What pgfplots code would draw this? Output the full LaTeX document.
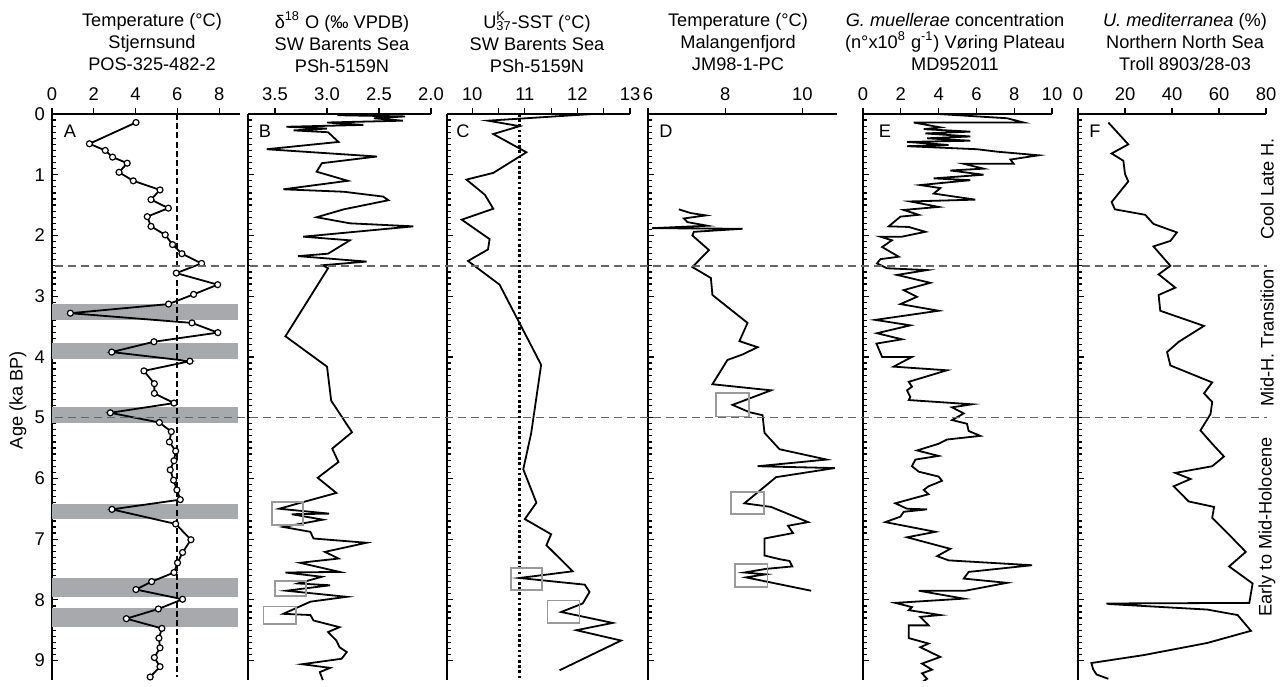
\documentclass[border=0pt]{standalone}
\usepackage{fontspec}
\setmainfont{Liberation Sans}
\usepackage{pgfplots}
\pgfplotsset{compat=1.18}
\definecolor{bandgray}{HTML}{A7A9AC}
\definecolor{boxgray}{HTML}{9A9A9A}
\definecolor{dashgray}{HTML}{666666}
\pgfplotsset{
  panel/.style={
    scale only axis, height=283pt, y dir=reverse, ymin=0, ymax=9.32,
    axis x line=top, axis y line=left, axis line style={-, line width=1.1pt},
    anchor=north west,
    ytick={0,1,2,3,4,5,6,7,8,9}, yticklabels={}, minor y tick num=9,
    xtick align=outside, ytick align=inside,
    major tick length=3pt, minor tick length=2pt,
    every tick/.style={black, line width=0.6pt},
    tick label style={font=\fontsize{9.2}{10}\selectfont},
  },
  dline/.style={black, line width=0.9pt, mark=none},
  gbox/.style={boxgray, line width=0.9pt, mark=none},
}
\begin{document}
\begin{tikzpicture}[x=1pt,y=1pt]
\useasboundingbox (0,0) rectangle (644,343);
\tikzset{ttl/.style={align=center, font=\fontsize{9.1}{11}\selectfont}}
% titles
\node[ttl] at (76,322) {Temperature (°C)\\Stjernsund\\POS-325-482-2};
\node[ttl] at (171,322) {δ\textsuperscript{18} O (‰ VPDB)\\SW Barents Sea\\PSh-5159N};
\node[ttl] at (268.5,322) {U\rlap{\textsuperscript{K}}\textsubscript{37}-SST (°C)\\SW Barents Sea\\PSh-5159N};
\node[ttl] at (369,322) {Temperature (°C)\\Malangenfjord\\JM98-1-PC};
\node[ttl] at (477.5,322) {\textit{G. muellerae} concentration\\(n°x10\textsuperscript{8} g\textsuperscript{-1}) Vøring Plateau\\MD952011};
\node[ttl] at (592.5,322) {\textit{U. mediterranea} (\%)\\Northern North Sea\\Troll 8903/28-03};
\node[ttl, rotate=90] at (9,143) {Age (ka BP)};
\node[ttl, rotate=90] at (633.5,248.6) {Cool Late H.};
\node[ttl, rotate=90] at (633.5,174) {Mid-H. Transition};
\node[ttl, rotate=90] at (633.5,79.5) {Early to Mid-Holocene};
% ---------------- A
\begin{axis}[panel, at={(26pt,286pt)}, width=94pt, xmin=0, xmax=9,
  xtick={0,2,4,6,8}, xticklabels={0,2,4,6,8}, yticklabels={0,1,2,3,4,5,6,7,8,9}]
\addplot[fill=bandgray, draw=none] coordinates {(0,3.13)(8.9,3.13)(8.9,3.39)(0,3.39)} -- cycle;
\addplot[fill=bandgray, draw=none] coordinates {(0,3.77)(8.9,3.77)(8.9,4.04)(0,4.04)} -- cycle;
\addplot[fill=bandgray, draw=none] coordinates {(0,4.83)(8.9,4.83)(8.9,5.09)(0,5.09)} -- cycle;
\addplot[fill=bandgray, draw=none] coordinates {(0,6.42)(8.9,6.42)(8.9,6.67)(0,6.67)} -- cycle;
\addplot[fill=bandgray, draw=none] coordinates {(0,7.64)(8.9,7.64)(8.9,7.96)(0,7.96)} -- cycle;
\addplot[fill=bandgray, draw=none] coordinates {(0,8.14)(8.9,8.14)(8.9,8.45)(0,8.45)} -- cycle;
\addplot[black, line width=0.9pt, dash pattern=on 3pt off 1.6pt] coordinates {(6,0)(6,9.27)};
\addplot[dline, mark=*, mark size=1.5pt, mark options={solid, fill=white, draw=black, line width=0.6pt}] coordinates {
(4.02,0.14)(1.79,0.49)(2.55,0.60)(2.90,0.71)(3.60,0.81)(3.21,0.96)(3.89,1.10)(5.17,1.25)
(4.74,1.41)(5.57,1.55)(4.56,1.69)(4.74,1.85)(5.42,1.99)(5.77,2.15)(6.22,2.30)(7.16,2.46)
(5.95,2.62)(7.93,2.81)(6.78,2.97)(5.58,3.13)(0.88,3.28)(6.70,3.44)(7.94,3.60)(4.88,3.75)
(2.86,3.92)(6.60,4.07)(4.40,4.23)(4.90,4.44)(4.90,4.60)(5.84,4.76)(2.79,4.92)(5.14,5.08)
(5.71,5.23)(5.62,5.40)(5.92,5.55)(5.84,5.71)(5.66,5.86)(5.82,6.03)(5.98,6.19)(6.14,6.35)
(2.87,6.51)(5.92,6.75)(6.65,7.01)(6.25,7.22)(6.01,7.39)(5.84,7.55)(4.77,7.70)(4.02,7.83)
(6.25,7.99)(5.09,8.15)(3.56,8.31)(5.26,8.47)(5.12,8.63)(5.17,8.79)(4.90,8.95)(5.17,9.10)(4.70,9.27)};
\end{axis}
\node[ttl] at (35,277.5) {A};
% ---------------- B
\begin{axis}[panel, at={(124pt,286pt)}, width=91.5pt, x dir=reverse, xmin=2.0, xmax=3.76,
  xtick={2.0,2.5,3.0,3.5}, xticklabels={2.0,2.5,3.0,3.5}]
\addplot[dline] coordinates {
(2.90,0.02)(2.25,0.04)(2.55,0.07)(2.27,0.11)(3.00,0.14)(2.65,0.18)(3.39,0.21)(3.00,0.24)
(3.32,0.27)(2.99,0.30)(2.89,0.46)(3.58,0.58)(2.52,0.70)(3.05,0.81)(3.10,0.95)(2.80,1.10)
(3.42,1.24)(2.84,1.28)(2.46,1.36)(2.41,1.42)(2.84,1.57)(3.10,1.70)(2.78,1.80)(2.17,1.85)
(3.23,2.02)(2.78,2.08)(2.99,2.30)(3.28,2.34)(2.62,2.43)(3.04,2.49)(2.99,2.54)(3.40,3.66)
(3.00,4.16)(2.96,4.72)(2.76,5.24)(2.95,5.51)(2.89,5.73)(3.09,5.99)(2.91,6.24)(3.23,6.39)
(3.46,6.50)(2.98,6.58)(3.34,6.59)(3.04,6.68)(3.42,6.80)(3.16,6.88)(3.13,6.99)(2.62,7.06)
(3.02,7.21)(2.89,7.32)(3.26,7.39)(2.88,7.54)(3.40,7.55)(3.05,7.62)(3.28,7.73)(2.97,7.76)
(3.39,7.85)(2.81,7.95)(3.16,8.03)(3.42,8.23)(3.16,8.25)(3.13,8.34)(2.88,8.45)(2.99,8.53)
(2.91,8.67)(2.88,8.78)(2.81,8.86)(2.86,8.97)(3.24,9.06)(2.97,9.12)(3.07,9.19)(3.04,9.32)};
\addplot[gbox] coordinates {(3.53,6.39)(3.23,6.39)(3.23,6.77)(3.53,6.77)} -- cycle;
\addplot[gbox] coordinates {(3.50,7.69)(3.20,7.69)(3.20,7.94)(3.50,7.94)} -- cycle;
\addplot[gbox] coordinates {(3.61,8.11)(3.30,8.11)(3.30,8.40)(3.61,8.40)} -- cycle;
\end{axis}
\node[ttl] at (132.5,277.5) {B};
% ---------------- C
\begin{axis}[panel, at={(223.5pt,286pt)}, width=91.5pt, xmin=9.52, xmax=13,
  xtick={10,10.5,11,11.5,12,12.5,13}, xticklabels={10,,11,,12,,13}]
\addplot[black, line width=1.1pt, dash pattern=on 1.3pt off 1.3pt] coordinates {(10.9,0)(10.9,9.32)};
\addplot[dline] coordinates {
(12.29,0.00)(10.30,0.11)(10.90,0.20)(10.40,0.33)(11.03,0.63)(10.40,0.97)(9.89,1.08)(10.24,1.33)
(10.40,1.56)(9.80,1.74)(10.33,2.06)(10.30,2.23)(9.92,2.42)(10.52,2.81)(11.31,4.13)(11.12,5.26)
(10.97,5.85)(11.22,6.40)(11.00,6.67)(11.50,6.92)(11.41,7.10)(11.91,7.53)(10.90,7.64)(12.14,7.75)
(12.23,7.87)(12.10,8.06)(11.69,8.20)(12.67,8.38)(11.98,8.50)(12.83,8.67)(11.66,9.16)};
\addplot[gbox] coordinates {(10.73,7.47)(11.33,7.47)(11.33,7.84)(10.73,7.84)} -- cycle;
\addplot[gbox] coordinates {(11.43,8.01)(12.04,8.01)(12.04,8.38)(11.43,8.38)} -- cycle;
\end{axis}
\node[ttl] at (231.5,277.5) {C};
% ---------------- D
\begin{axis}[panel, at={(324pt,286pt)}, width=94.5pt, xmin=6, xmax=10.9,
  xtick={6,8,10}, xticklabels={6,8,10}]
\addplot[dline] coordinates {
(6.80,1.57)(7.10,1.63)(7.50,1.67)(6.93,1.72)(7.02,1.78)(7.54,1.84)(6.10,1.88)(8.45,1.89)
(7.19,1.94)(7.15,2.00)(7.58,2.24)(7.15,2.52)(7.63,2.70)(7.67,2.98)(8.58,3.44)(8.37,3.74)
(8.84,3.84)(8.45,3.96)(8.06,4.05)(7.67,4.45)(9.19,4.55)(8.19,4.79)(8.63,4.91)(8.97,4.96)
(9.02,5.25)(9.41,5.52)(10.63,5.69)(8.84,5.80)(10.84,5.83)(9.32,5.98)(8.50,6.41)(9.19,6.47)
(10.15,6.72)(9.63,6.78)(9.76,6.90)(9.02,6.99)(9.02,7.27)(9.41,7.33)(9.67,7.36)(9.74,7.45)
(9.06,7.49)(8.50,7.55)(9.05,7.58)(8.54,7.63)(10.23,7.85)};
\addplot[gbox] coordinates {(7.77,4.60)(8.61,4.60)(8.61,4.98)(7.77,4.98)} -- cycle;
\addplot[gbox] coordinates {(8.15,6.23)(9.00,6.23)(9.00,6.58)(8.15,6.58)} -- cycle;
\addplot[gbox] coordinates {(8.26,7.41)(9.10,7.41)(9.10,7.79)(8.26,7.79)} -- cycle;
\end{axis}
\node[ttl] at (333,277.5) {D};
% ---------------- E
\begin{axis}[panel, at={(431.5pt,286pt)}, width=94.5pt, xmin=0, xmax=10,
  xtick={0,2,4,6,8,10}, xticklabels={0,2,4,6,8,10}]
\addplot[dline] coordinates {
(4.00,0.00)(7.62,0.07)(8.50,0.14)(2.68,0.14)(4.09,0.22)(3.21,0.25)(5.68,0.29)(3.30,0.32)
(5.68,0.37)(3.39,0.40)(5.68,0.44)(2.33,0.46)(4.53,0.51)(2.33,0.53)(6.03,0.58)(7.09,0.62)
(9.29,0.68)(7.80,0.75)(7.97,0.82)(5.33,0.82)(6.38,0.90)(4.62,0.93)(6.38,1.00)(3.74,1.06)
(5.68,1.09)(3.03,1.17)(4.09,1.22)(3.74,1.31)(5.94,1.41)(2.50,1.44)(4.00,1.53)(2.15,1.58)
(2.95,1.66)(1.98,1.69)(1.36,1.85)(2.42,1.86)(3.30,1.94)(2.06,2.02)(0.92,2.02)(1.53,2.08)
(1.01,2.19)(1.89,2.35)(0.92,2.39)(0.74,2.46)(1.27,2.54)(3.39,2.57)(1.80,2.65)(3.56,2.78)
(2.15,2.90)(2.86,3.01)(1.98,3.13)(4.00,3.24)(0.65,3.39)(2.50,3.48)(0.74,3.61)(2.06,3.71)
(0.71,3.78)(1.01,4.00)(2.59,4.00)(1.62,4.16)(4.44,4.22)(2.42,4.41)(2.59,4.49)(2.33,4.55)
(2.50,4.66)(2.42,4.71)(5.77,4.78)(4.71,4.83)(5.33,4.93)(4.71,5.04)(5.50,5.10)(5.59,5.22)
(6.21,5.30)(4.44,5.36)(4.00,5.43)(2.86,5.54)(4.00,5.63)(2.77,5.69)(2.59,5.80)(2.95,5.89)
(4.00,5.97)(4.18,6.04)(3.47,6.13)(3.21,6.19)(3.47,6.26)(1.71,6.41)(2.33,6.50)(3.39,6.51)
(2.15,6.55)(1.98,6.63)(1.18,6.72)(3.83,6.88)(2.33,6.97)(4.62,7.16)(3.92,7.28)(4.53,7.35)
(8.94,7.43)(5.59,7.54)(5.33,7.65)(7.62,7.72)(5.41,7.85)(2.95,7.85)(5.33,7.98)(1.71,8.05)
(2.59,8.12)(2.42,8.17)(4.09,8.25)(3.03,8.28)(3.47,8.42)(2.42,8.42)(2.42,8.63)(3.47,8.72)
(3.03,8.78)(4.09,8.94)(3.12,9.05)(3.65,9.15)(3.12,9.21)(3.39,9.30)(2.86,9.41)};
\end{axis}
\node[ttl] at (442.5,277.5) {E};
% ---------------- F
\begin{axis}[panel, at={(539pt,286pt)}, width=94pt, xmin=0, xmax=80,
  xtick={0,20,40,60,80}, xticklabels={0,20,40,60,80}]
\addplot[dline] coordinates {
(12.9,0.14)(21.4,0.50)(14.3,0.65)(19.3,0.77)(20.0,0.99)(21.4,1.11)(14.3,1.45)(15.7,1.57)
(28.6,1.66)(32.1,1.81)(42.1,1.95)(39.3,2.09)(32.1,2.18)(39.3,2.50)(34.3,2.64)(41.4,2.86)
(34.3,2.98)(35.0,3.24)(53.6,3.49)(42.9,3.75)(37.9,3.92)(39.3,4.14)(57.1,4.42)(53.6,4.60)
(57.1,4.74)(56.4,4.94)(52.1,5.21)(57.1,5.43)(62.1,5.64)(57.1,5.80)(41.4,5.91)(47.9,6.01)
(40.7,6.13)(47.1,6.38)(57.9,6.47)(57.1,6.65)(63.6,6.90)(71.4,7.21)(64.3,7.45)(74.3,7.73)
(72.9,8.05)(12.1,8.06)(13.6,8.07)(55.0,8.16)(67.9,8.25)(73.6,8.51)(55.0,8.71)(27.9,8.91)
(5.7,9.04)(6.4,9.14)(7.9,9.23)(12.9,9.30)};
\end{axis}
\node[ttl] at (547.5,277.5) {F};
% ---------------- horizontal dashed lines
\begin{axis}[at={(27.5pt,286pt)}, anchor=north west, scale only axis, width=606pt, height=283pt,
  hide axis, xmin=0, xmax=1, ymin=0, ymax=9.32, y dir=reverse]
\addplot[dashgray, line width=0.8pt, dash pattern=on 4pt off 2.5pt] coordinates {(0,2.5)(1,2.5)};
\addplot[dashgray, line width=0.8pt, dash pattern=on 4pt off 2.5pt] coordinates {(0,5.0)(1,5.0)};
\end{axis}
\end{tikzpicture}
\end{document}
